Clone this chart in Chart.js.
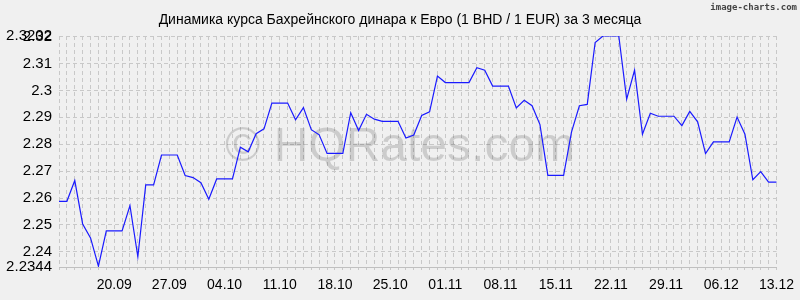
<!DOCTYPE html>
<html>
<head>
<meta charset="utf-8">
<script src="https://cdn.jsdelivr.net/npm/chart.js@4/dist/chart.umd.min.js"></script>
<style>
  html, body { margin: 0; padding: 0; background: #f0f0f0; }
  #wrap { width: 800px; height: 300px; position: relative; }
</style>
</head>
<body>
<div id="wrap"><canvas id="rateChart" width="800" height="300"></canvas></div>
<script>
'use strict';

// Заголовок и подписи
var chartTitle = 'Динамика курса Бахрейнского динара к Евро (1 BHD / 1 EUR) за 3 месяца';
var watermark = '© HQRates.com';
var brand = 'image-charts.com';

// Даты (13.09 - 13.12)
var dates = [
    '13.09', '14.09', '15.09', '16.09', '17.09', '18.09', '19.09', '20.09', '21.09', '22.09',
    '23.09', '24.09', '25.09', '26.09', '27.09', '28.09', '29.09', '30.09', '01.10', '02.10',
    '03.10', '04.10', '05.10', '06.10', '07.10', '08.10', '09.10', '10.10', '11.10', '12.10',
    '13.10', '14.10', '15.10', '16.10', '17.10', '18.10', '19.10', '20.10', '21.10', '22.10',
    '23.10', '24.10', '25.10', '26.10', '27.10', '28.10', '29.10', '30.10', '31.10', '01.11',
    '02.11', '03.11', '04.11', '05.11', '06.11', '07.11', '08.11', '09.11', '10.11', '11.11',
    '12.11', '13.11', '14.11', '15.11', '16.11', '17.11', '18.11', '19.11', '20.11', '21.11',
    '22.11', '23.11', '24.11', '25.11', '26.11', '27.11', '28.11', '29.11', '30.11', '01.12',
    '02.12', '03.12', '04.12', '05.12', '06.12', '07.12', '08.12', '09.12', '10.12', '11.12',
    '12.12', '13.12'
];

// Курс BHD / EUR
var rates = [
    2.2588, 2.2588, 2.2665, 2.2504, 2.2452, 2.2347, 2.2478, 2.2478, 2.2478, 2.2572,
    2.2382, 2.2649, 2.2649, 2.2760, 2.2760, 2.2760, 2.2684, 2.2676, 2.2657, 2.2596,
    2.2671, 2.2671, 2.2671, 2.2789, 2.2772, 2.2839, 2.2857, 2.2953, 2.2953, 2.2953,
    2.2891, 2.2936, 2.2854, 2.2835, 2.2766, 2.2766, 2.2766, 2.2917, 2.2851, 2.2911,
    2.2893, 2.2885, 2.2885, 2.2885, 2.2823, 2.2834, 2.2907, 2.2920, 2.3053, 2.3029,
    2.3029, 2.3029, 2.3029, 2.3084, 2.3075, 2.3016, 2.3016, 2.3016, 2.2935, 2.2963,
    2.2943, 2.2873, 2.2684, 2.2684, 2.2684, 2.2845, 2.2943, 2.2948, 2.3178, 2.3202,
    2.3202, 2.3202, 2.2967, 2.3075, 2.2837, 2.2915, 2.2904, 2.2904, 2.2904, 2.2869,
    2.2922, 2.2883, 2.2765, 2.2809, 2.2809, 2.2809, 2.2901, 2.2837, 2.2668, 2.2698,
    2.2659, 2.2659
];

// Подписи осей
var xTickLabels = ['20.09', '27.09', '04.10', '11.10', '18.10', '25.10', '01.11', '08.11', '15.11', '22.11', '29.11', '06.12', '13.12'];
var yMin = 2.2344;
var yMax = 2.3202;
var yTickValues = [2.2344, 2.24, 2.25, 2.26, 2.27, 2.28, 2.29, 2.3, 2.31, 2.32, 2.3202];

// Надписи поверх графика
var textPlugin = {
    id: 'texts',
    beforeDatasetsDraw: function (chart) {
        var c = chart.ctx;
        c.save();
        c.fillStyle = 'rgba(0,0,0,0.15)';
        c.font = '48px "Liberation Sans", Arial, sans-serif';
        c.textAlign = 'center';
        c.textBaseline = 'middle';
        c.fillText(watermark, 400, 148);
        c.restore();
    },
    afterDraw: function (chart) {
        var c = chart.ctx;
        c.save();
        c.fillStyle = '#000';
        c.font = '14px "Liberation Sans", Arial, sans-serif';
        c.textAlign = 'center';
        c.textBaseline = 'alphabetic';
        c.fillText(chartTitle, 400, 24);
        c.fillStyle = '#444';
        c.font = 'bold 9px "DejaVu Sans Mono", monospace';
        c.textAlign = 'right';
        c.fillText(brand, 797, 10);
        c.restore();
    }
};

var ctx = document.getElementById('rateChart').getContext('2d');

var rateChart = new Chart(ctx, {
    type: 'line',
    data: {
        labels: dates,
        datasets: [{
            data: rates,
            borderColor: '#1a1aff',
            borderWidth: 1.2,
            pointRadius: 0,
            tension: 0,
            fill: false
        }]
    },
    options: {
        responsive: false,
        animation: false,
        layout: { padding: { top: 36, right: 20, left: 0, bottom: 0 } },
        plugins: {
            legend: { display: false },
            title: { display: false },
            tooltip: { enabled: false }
        },
        scales: {
            x: {
                offset: false,
                afterFit: function (scale) { scale.height = 33; },
                grid: {
                    color: '#c8c8c8',
                    tickLength: 4,
                    tickColor: '#c8c8c8',
                    tickBorderDash: [2, 2]
                },
                border: { display: true, color: '#c0c0c0', dash: [4, 3] },
                ticks: {
                    autoSkip: false,
                    maxRotation: 0,
                    padding: 6,
                    color: '#000',
                    font: { family: '"Liberation Sans", Arial, sans-serif', size: 14 },
                    callback: function (value, index) {
                        var d = dates[index];
                        return xTickLabels.indexOf(d) >= 0 ? d : '';
                    }
                }
            },
            y: {
                min: yMin,
                max: yMax,
                afterFit: function (scale) { scale.width = 59; },
                afterBuildTicks: function (scale) {
                    scale.ticks = yTickValues.map(function (v) { return { value: v }; });
                },
                grid: {
                    color: '#c8c8c8',
                    drawTicks: false
                },
                border: { display: false, dash: [4, 3] },
                ticks: {
                    padding: 7,
                    color: '#000',
                    font: { family: '"Liberation Sans", Arial, sans-serif', size: 15 },
                    callback: function (value) {
                        return String(Number(value.toFixed(4)));
                    }
                }
            }
        }
    },
    plugins: [textPlugin]
});
</script>
</body>
</html>
